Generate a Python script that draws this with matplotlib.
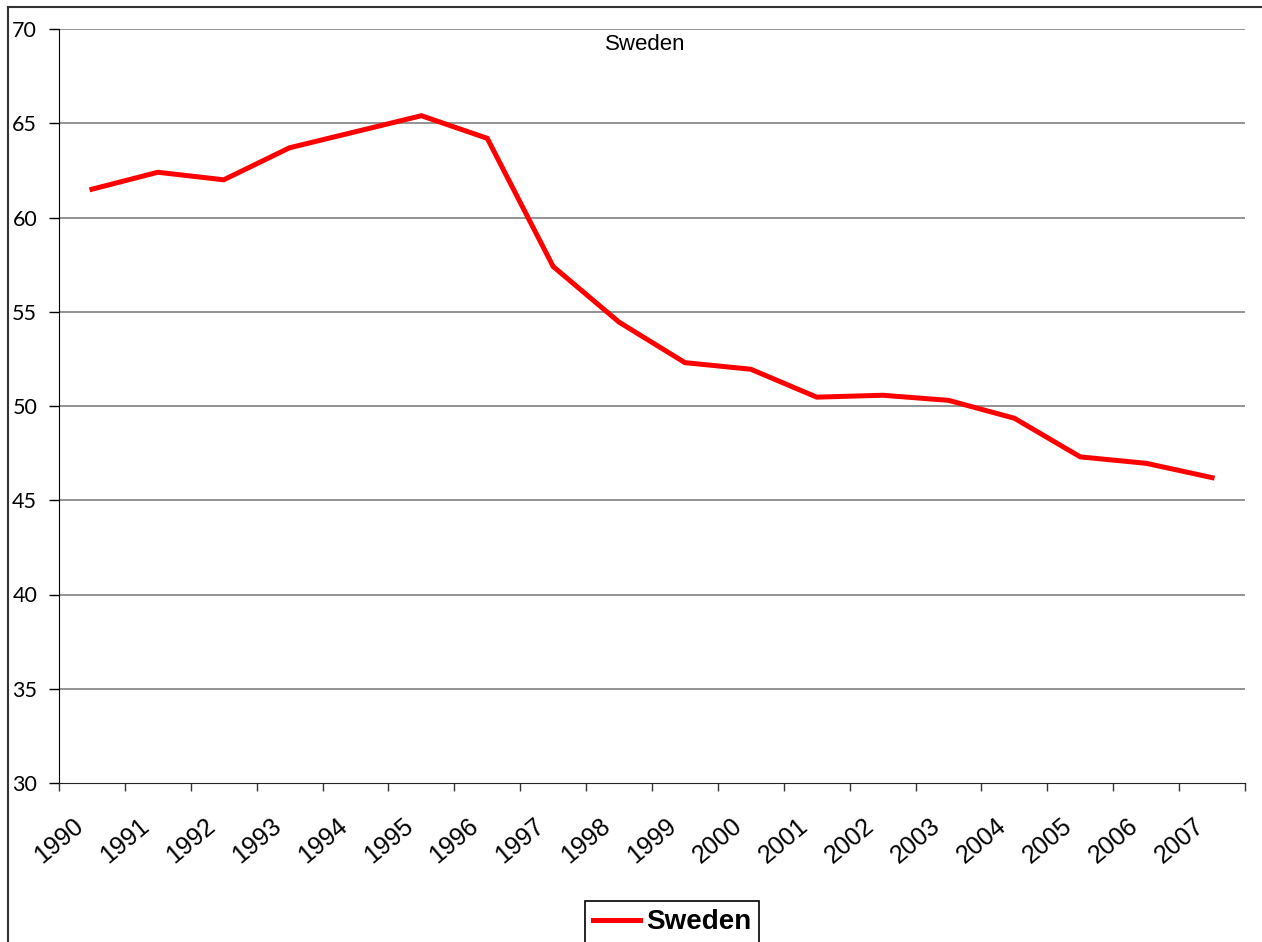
import matplotlib.pyplot as plt
from matplotlib.lines import Line2D
from matplotlib.transforms import ScaledTranslation

years = [str(y) for y in range(1990, 2008)]
sweden = [61.5, 62.4, 62.0, 63.7, 64.55, 65.4, 64.2, 57.4, 54.45, 52.3,
          51.95, 50.47, 50.57, 50.3, 49.35, 47.3, 46.96, 46.2]
yticks = [30, 35, 40, 45, 50, 55, 60, 65, 70]

W, H = 1262, 942
fig = plt.figure(figsize=(W / 100, H / 100), dpi=100)
ax = fig.add_axes([59 / W, 1 - 783 / H, (1245 - 59) / W, (783 - 29) / H])

x = list(range(len(years)))
ax.plot(x, sweden, color='#ff0000', lw=3.6, label='Sweden', solid_joinstyle='miter')

ax.set_xlim(-0.5, len(years) - 0.5)
ax.set_ylim(30, 70)
ax.set_yticks(yticks)
ax.set_yticklabels([str(v) for v in yticks], family=['Lato', 'DejaVu Sans'], fontsize=15.5)
for v in yticks[1:]:
    ax.axhline(v, color='#808080', lw=1.2, zorder=0)

# ticks at category boundaries, labels next to them
bounds = [i - 0.5 for i in range(len(years) + 1)]
ax.set_xticks(bounds)
ax.set_xticklabels(years + [''], rotation=40, ha='center', va='top',
                   family=['Liberation Sans', 'DejaVu Sans'], fontsize=18)
for lab in ax.get_xticklabels():
    lab.set_transform(lab.get_transform() + ScaledTranslation(-5 / 100, 0, fig.dpi_scale_trans))

ax.tick_params(axis='y', direction='out', length=7.2, width=1, pad=8.5, color='black')
ax.tick_params(axis='x', direction='out', length=6, width=1, pad=16, color='#333333')
for s in ['top', 'right']:
    ax.spines[s].set_visible(False)
ax.spines['left'].set_color('black')
ax.spines['bottom'].set_color('#222222')

fig.text(645 / W, 1 - 45 / H, 'Sweden', ha='center', va='center',
         family=['Liberation Sans', 'DejaVu Sans'], fontsize=16)

leg = fig.legend(loc='upper center', bbox_to_anchor=(672 / W, 1 - 901 / H),
                 frameon=True, fancybox=False, edgecolor='black', framealpha=1,
                 prop={'family': ['Liberation Sans', 'DejaVu Sans'], 'weight': 'bold', 'size': 20},
                 handlelength=1.7, handletextpad=0.2, borderpad=0.3, borderaxespad=0)
leg.get_frame().set_linewidth(1.2)

# outer chart border (left and top edges)
fig.add_artist(Line2D([8 / W, 8 / W], [0, 1 - 7 / H], color='#333333', lw=1.5))
fig.add_artist(Line2D([8 / W, 1], [1 - 7 / H, 1 - 7 / H], color='#333333', lw=1.5))

fig.savefig('out.png', dpi=100)
